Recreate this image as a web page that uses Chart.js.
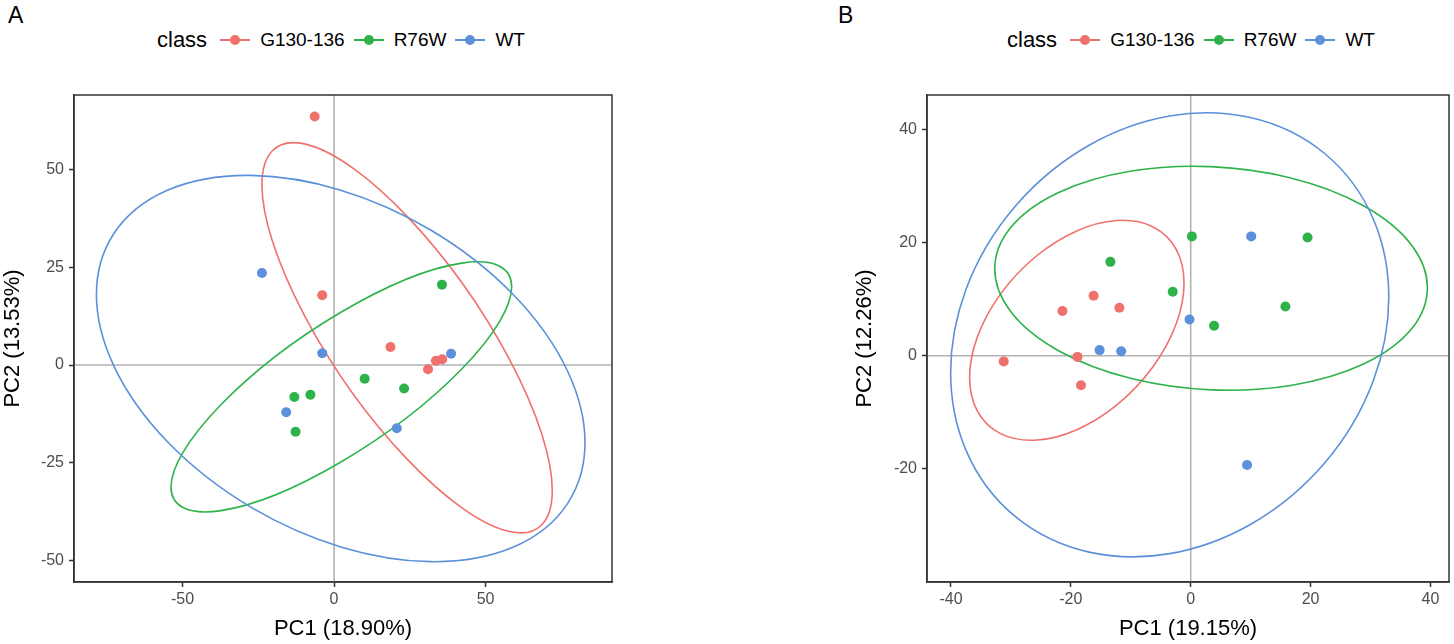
<!DOCTYPE html>
<html>
<head>
<meta charset="utf-8">
<script src="https://cdn.jsdelivr.net/npm/chart.js@4.4.1/dist/chart.umd.min.js"></script>
<style>
  html, body { margin: 0; padding: 0; background: #fff; }
  body { width: 1454px; height: 644px; position: relative; overflow: hidden;
         font-family: "Liberation Sans", Arial, Helvetica, sans-serif; }
  canvas { position: absolute; top: 0; }
  #pcaA { left: 0; }
  #pcaB { left: 840px; }
  .tag { position: absolute; top: 2px; font-size: 23px; color: #000; }
  .legend { position: absolute; top: 27px; display: flex; align-items: center; height: 26px; }
  .legend .ttl { font-size: 22px; color: #000; margin-right: 13px; }
  .legend .mk { position: relative; width: 30px; height: 26px; margin-right: 10px; }
  .legend .mk::before { content: ""; position: absolute; left: 0; right: 0; top: 12px; height: 2px; background: var(--c); }
  .legend .mk::after { content: ""; position: absolute; left: 10px; top: 8px; width: 10px; height: 10px; border-radius: 50%; background: var(--c); }
  .legend .lb { font-size: 19px; color: #000; margin-right: 9px; }
</style>
</head>
<body>
<div class="tag" style="left:8px">A</div>
<div class="tag" style="left:838px">B</div>
<div class="legend" id="legA" style="left:157px"></div>
<div class="legend" id="legB" style="left:1007px"></div>
<canvas id="pcaA" width="640" height="644"></canvas>
<canvas id="pcaB" width="614" height="644"></canvas>
<script>
// groups
const classes = ["G130-136", "R76W", "WT"];
const colors = ["#F0716C", "#2DB34A", "#5B90DA"];

// panel A scores
const aG130x = [-6.4, -3.9, 18.6, 33.6, 35.7, 31.0];
const aG130y = [63.7, 17.9, 4.6, 1.1, 1.5, -1.1];
const aR76Wx = [35.6, 10.1, 23.1, -13.1, -7.8, -12.7];
const aR76Wy = [20.6, -3.5, -6.0, -8.2, -7.6, -17.1];
const aWTx = [-23.8, -3.9, 38.6, -15.8, 20.7];
const aWTy = [23.6, 3.0, 2.9, -12.1, -16.2];

// panel A ellipses (center + spread matrix), order = classes
const aEllCx = [24.1, 2.4, 2.2];
const aEllCy = [7.0, -5.6, -0.9];
const aEllSxx = [2294, 3158, 6496];
const aEllSyy = [2500, 1027, 2450];
const aEllSxy = [-1875, 1442, -1530];

// panel B scores
const bG130x = [-31.2, -21.4, -16.2, -11.9, -18.9, -18.3];
const bG130y = [-1.0, 7.9, 10.6, 8.5, -0.2, -5.2];
const bR76Wx = [0.2, 19.5, -13.4, -3.0, 15.8, 3.9];
const bR76Wy = [21.1, 20.9, 16.6, 11.3, 8.7, 5.3];
const bWTx = [10.1, -0.2, -15.2, -11.6, 9.4];
const bWTy = [21.1, 6.4, 1.0, 0.8, -19.3];

// panel B ellipses
const bEllCx = [-19.0, 3.4, -3.5];
const bEllCy = [4.5, 13.7, 3.7];
const bEllSxx = [320, 1303, 1336];
const bEllSyy = [378, 392, 1541];
const bEllSxy = [149, -60, 243];

// axes
const aXRange = [-85.8, 91.7];
const aYRange = [-55.6, 69.2];
const aXTicks = [-50, 0, 50];
const aYTicks = [-50, -25, 0, 25, 50];
const bXRange = [-44.0, 43.1];
const bYRange = [-40.0, 46.1];
const bXTicks = [-40, -20, 0, 20, 40];
const bYTicks = [-20, 0, 20, 40];

const aXTitle = "PC1 (18.90%)";
const aYTitle = "PC2 (13.53%)";
const bXTitle = "PC1 (19.15%)";
const bYTitle = "PC2 (12.26%)";

const FONT = "'Liberation Sans', Arial, Helvetica, sans-serif";
const AXIS = "#333333";

function toPoints(xs, ys) {
  return xs.map((x, i) => ({ x: x, y: ys[i] }));
}

// zero lines, ellipses and the panel box
const pcaDecor = {
  id: "pcaDecor",
  beforeDatasetsDraw(chart, args, opts) {
    const ctx = chart.ctx;
    const area = chart.chartArea;
    const xs = chart.scales.x, ys = chart.scales.y;
    ctx.save();
    ctx.beginPath();
    ctx.rect(area.left, area.top, area.right - area.left, area.bottom - area.top);
    ctx.clip();

    ctx.strokeStyle = "#b3b3b3";
    ctx.lineWidth = 1.6;
    const x0 = xs.getPixelForValue(0), y0 = ys.getPixelForValue(0);
    ctx.beginPath();
    ctx.moveTo(x0, area.top); ctx.lineTo(x0, area.bottom);
    ctx.moveTo(area.left, y0); ctx.lineTo(area.right, y0);
    ctx.stroke();

    const sx = xs.getPixelForValue(1) - xs.getPixelForValue(0);
    const sy = ys.getPixelForValue(1) - ys.getPixelForValue(0);
    const e = opts.ellipses;
    e.cx.forEach((cx, i) => {
      const l11 = Math.sqrt(e.sxx[i]);
      const l21 = e.sxy[i] / l11;
      const l22 = Math.sqrt(e.syy[i] - l21 * l21);
      ctx.save();
      ctx.translate(xs.getPixelForValue(cx), ys.getPixelForValue(e.cy[i]));
      ctx.transform(sx * l11, sy * l21, 0, sy * l22, 0, 0);
      ctx.beginPath();
      ctx.arc(0, 0, 1, 0, Math.PI * 2);
      ctx.restore();
      ctx.strokeStyle = colors[i];
      ctx.lineWidth = 1.6;
      ctx.stroke();
    });
    ctx.restore();
  },
  afterDraw(chart) {
    const ctx = chart.ctx;
    const a = chart.chartArea;
    ctx.save();
    ctx.strokeStyle = AXIS;
    ctx.lineWidth = 1.5;
    ctx.strokeRect(a.left, a.top, a.right - a.left, a.bottom - a.top);
    ctx.restore();
  }
};

function axis(range, ticks, title, isX, size, titlePad) {
  return {
    type: "linear",
    min: range[0],
    max: range[1],
    afterBuildTicks: (s) => { s.ticks = ticks.map((v) => ({ value: v })); },
    afterFit: (s) => { if (isX) s.height = size; else s.width = size; },
    border: { display: true, color: AXIS, width: 1.5 },
    grid: { display: true, drawOnChartArea: false, drawTicks: true, tickLength: 5, tickColor: AXIS, tickWidth: 1.5 },
    ticks: { color: "#4d4d4d", font: { family: FONT, size: 16 }, padding: isX ? 3 : 5, maxRotation: 0, autoSkip: false },
    title: { display: true, text: title, color: "#000", font: { family: FONT, size: 22, lineHeight: 1 }, padding: titlePad }
  };
}

function makeChart(id, series, ell, xr, yr, xt, yt, xTitle, yTitle, yWidth, yTitlePad, pad) {
  return new Chart(document.getElementById(id), {
    type: "scatter",
    data: {
      datasets: series.map((s, i) => ({
        label: classes[i],
        data: toPoints(s[0], s[1]),
        pointRadius: 5,
        pointHoverRadius: 5,
        pointBackgroundColor: colors[i],
        pointBorderWidth: 0,
        borderWidth: 0
      }))
    },
    options: {
      responsive: false,
      animation: false,
      devicePixelRatio: 1,
      layout: { padding: pad },
      plugins: { legend: { display: false }, tooltip: { enabled: false }, pcaDecor: { ellipses: ell } },
      scales: {
        x: axis(xr, xt, xTitle, true, 62, { top: 0, bottom: 4 }),
        y: axis(yr, yt, yTitle, false, yWidth, { top: yTitlePad, bottom: 0 })
      }
    },
    plugins: [pcaDecor]
  });
}

function buildLegend(id) {
  const el = document.getElementById(id);
  let html = '<span class="ttl">class</span>';
  classes.forEach((c, i) => {
    html += '<span class="mk" style="--c:' + colors[i] + '"></span><span class="lb">' + c + '</span>';
  });
  el.innerHTML = html;
}

buildLegend("legA");
buildLegend("legB");

makeChart("pcaA",
  [[aG130x, aG130y], [aR76Wx, aR76Wy], [aWTx, aWTy]],
  { cx: aEllCx, cy: aEllCy, sxx: aEllSxx, syy: aEllSyy, sxy: aEllSxy },
  aXRange, aYRange, aXTicks, aYTicks, aXTitle, aYTitle, 74, 2,
  { left: 0, top: 95, right: 28, bottom: 0 });

makeChart("pcaB",
  [[bG130x, bG130y], [bR76Wx, bR76Wy], [bWTx, bWTy]],
  { cx: bEllCx, cy: bEllCy, sxx: bEllSxx, syy: bEllSyy, sxy: bEllSxy },
  bXRange, bYRange, bXTicks, bYTicks, bXTitle, bYTitle, 87, 14,
  { left: 0, top: 95, right: 2, bottom: 0 });
</script>
</body>
</html>
